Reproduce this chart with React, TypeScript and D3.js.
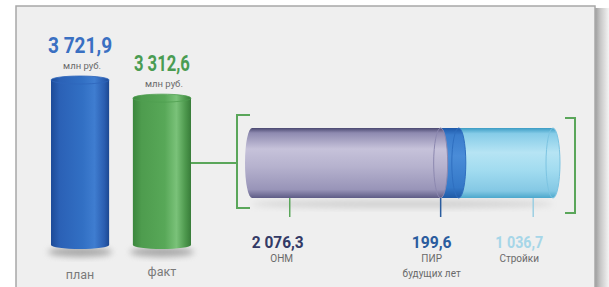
import * as d3 from 'd3';

// vertical bars: plan vs fact
const barNames = ['план', 'факт'];
const barValues = [3721.9, 3312.6];
const barValueLabels = ['3 721,9', '3 312,6'];

// breakdown of the fact value
const partNames = ['ОНМ', 'ПИР', 'Стройки'];
const partSubNames = ['', 'будущих лет', ''];
const partValues = [2076.3, 199.6, 1036.7];
const partValueLabels = ['2 076,3', '199,6', '1 036,7'];
// where the leader line leaves each segment (share of segment width)
const partLeaderAt = [0.2, 0, 0.79];

const W = 609;
const H = 287;
const NUM_FONT = 'Roboto, "Liberation Sans", sans-serif';
const TXT_FONT = 'Roboto, "Liberation Sans", sans-serif';

const barColors = ['#2e66bb', '#4f9e50'];
const barLabelColors = ['#3a70c2', '#4a9c52'];
const barLabelWidths = [64, 56];
const partLabelColors = ['#333a66', '#2a5c9e', '#a6d6e8'];
const partLabelWidths = [52, 40, 48];
const partLabelShift = [-12, -9, -14];
const partLeaderColors = ['#5aa65a', '#2a5c9e', '#9ccfe2'];

export default function App() {
  const x = d3.scaleBand<string>().domain(barNames).range([51, 191]).paddingInner(0.29);
  const y = d3.scaleLinear().domain([0, d3.max(barValues) as number]).range([245, 80]);

  const total = d3.sum(partValues);
  const capRx = 7;
  const hx = d3.scaleLinear().domain([0, total]).range([245 + capRx, 560 - capRx]);
  const cylTop = 128;
  const cylBot = 198;
  const cylMid = (cylTop + cylBot) / 2;

  const starts = partValues.map((_, i) => d3.sum(partValues.slice(0, i)));
  const segs = partValues.map((v, i) => ({
    name: partNames[i],
    x0: hx(starts[i]),
    x1: hx(starts[i] + v),
  }));

  const bw = x.bandwidth();
  const capRy = 4;

  const brLeft = hx(0) - capRx - 8;
  const brRight = hx(total) + capRx + 15;

  return (
    <svg width={W} height={H} style={{ position: 'absolute', left: 0, top: 0 }}>
      <defs>
        <linearGradient id="gBlue" x1="0" x2="1" y1="0" y2="0">
          <stop offset="0" stopColor="#1d4b98" />
          <stop offset="0.15" stopColor="#2b61b6" />
          <stop offset="0.55" stopColor="#3270c4" />
          <stop offset="0.75" stopColor="#3f7dd0" />
          <stop offset="0.92" stopColor="#2a5db0" />
          <stop offset="1" stopColor="#1c4790" />
        </linearGradient>
        <linearGradient id="gGreen" x1="0" x2="1" y1="0" y2="0">
          <stop offset="0" stopColor="#3b873d" />
          <stop offset="0.15" stopColor="#4e9c4e" />
          <stop offset="0.55" stopColor="#58a858" />
          <stop offset="0.75" stopColor="#7ac279" />
          <stop offset="0.9" stopColor="#4e994e" />
          <stop offset="1" stopColor="#387c39" />
        </linearGradient>
        <linearGradient id="gONM" x1="0" x2="0" y1="0" y2="1">
          <stop offset="0" stopColor="#4a4870" />
          <stop offset="0.07" stopColor="#8e8ab0" />
          <stop offset="0.3" stopColor="#c6c2da" />
          <stop offset="0.55" stopColor="#b6b2ce" />
          <stop offset="0.88" stopColor="#9894b8" />
          <stop offset="1" stopColor="#5e5c86" />
        </linearGradient>
        <linearGradient id="gPIR" x1="0" x2="0" y1="0" y2="1">
          <stop offset="0" stopColor="#1d58a8" />
          <stop offset="0.1" stopColor="#3a7ccc" />
          <stop offset="0.4" stopColor="#4a8cd8" />
          <stop offset="0.85" stopColor="#3478c8" />
          <stop offset="1" stopColor="#1f5aa6" />
        </linearGradient>
        <linearGradient id="gStr" x1="0" x2="0" y1="0" y2="1">
          <stop offset="0" stopColor="#3c9cc4" />
          <stop offset="0.08" stopColor="#86cce8" />
          <stop offset="0.35" stopColor="#b6e4f4" />
          <stop offset="0.6" stopColor="#a2dcf0" />
          <stop offset="0.9" stopColor="#84c8e4" />
          <stop offset="1" stopColor="#4ca8cc" />
        </linearGradient>
        <linearGradient id="gShadowR" x1="0" x2="1" y1="0" y2="0">
          <stop offset="0" stopColor="#9c9c9c" />
          <stop offset="0.4" stopColor="#c8c8c8" />
          <stop offset="1" stopColor="#f4f4f4" />
        </linearGradient>
        <filter id="blur" x="-50%" y="-50%" width="200%" height="200%">
          <feGaussianBlur stdDeviation="3" />
        </filter>
      </defs>

      {/* page + panel */}
      <rect x={0} y={0} width={W} height={H} fill="#ffffff" />
      <rect x={595} y={8} width={14} height={H} fill="url(#gShadowR)" />
      <rect x={16} y={6} width={579} height={H} fill="#efefef" stroke="#a8a8a8" strokeWidth={1.5} />

      {/* vertical bars */}
      {barNames.map((n, i) => {
        const bx = x(n) as number;
        const cx = bx + bw / 2;
        const top = y(barValues[i]);
        const bot = y(0);
        const grad = i === 0 ? 'url(#gBlue)' : 'url(#gGreen)';
        return (
          <g key={n}>
            <ellipse cx={cx} cy={bot + 7} rx={bw / 2 + 3} ry={5} fill="#7a7a7a" opacity={0.6} filter="url(#blur)" />
            <path
              d={`M${bx},${top} L${bx},${bot} A${bw / 2},${capRy} 0 0 0 ${bx + bw},${bot} L${bx + bw},${top} Z`}
              fill={grad}
            />
            <ellipse cx={cx} cy={top} rx={bw / 2} ry={capRy} fill={grad} stroke={barColors[i]} strokeWidth={0.8} />
            <text
              x={cx} y={top - 27} textAnchor="middle"
              textLength={barLabelWidths[i]} lengthAdjust="spacingAndGlyphs"
              fontFamily={NUM_FONT} fontWeight="bold" fontSize={22} fill={barLabelColors[i]}
            >
              {barValueLabels[i]}
            </text>
            <text x={cx + 2} y={top - 11} textAnchor="middle" fontFamily={TXT_FONT} fontSize={9.5} fill="#6a6a6a">
              млн руб.
            </text>
            <text x={cx} y={279 - i * 3} textAnchor="middle" fontFamily={TXT_FONT} fontSize={12.5} fill="#7a7a7a">
              {n}
            </text>
          </g>
        );
      })}

      {/* connector + brackets */}
      <g stroke="#5aa65a" strokeWidth={2} fill="none">
        <line x1={(x(barNames[1]) as number) + bw} y1={cylMid} x2={brLeft} y2={cylMid} />
        <path d={`M${brLeft + 13},${cylTop - 13} H${brLeft} V${cylBot + 10} H${brLeft + 13}`} />
        <path d={`M${brRight - 10},${cylTop - 10} H${brRight} V${cylBot + 15} H${brRight - 10}`} />
      </g>

      {/* horizontal cylinder */}
      <ellipse cx={(hx(0) + hx(total)) / 2} cy={cylBot + 6} rx={(hx(total) - hx(0)) / 2} ry={4} fill="#9a9a9a" opacity={0.35} filter="url(#blur)" />
      <ellipse cx={hx(0)} cy={cylMid} rx={capRx} ry={(cylBot - cylTop) / 2} fill="url(#gONM)" />
      {segs.map((s, i) => {
        const grad = ['url(#gONM)', 'url(#gPIR)', 'url(#gStr)'][i];
        return (
          <rect key={s.name} x={s.x0} y={cylTop} width={s.x1 - s.x0} height={cylBot - cylTop} fill={grad} />
        );
      })}
      {segs.map((s, i) => {
        const grad = ['url(#gONM)', 'url(#gPIR)', 'url(#gStr)'][i];
        const edge = ['#8c88b0', '#2f6fc0', '#7cc4e2'][i];
        return (
          <ellipse
            key={`cap-${s.name}`} cx={s.x1} cy={cylMid} rx={capRx} ry={(cylBot - cylTop) / 2}
            fill={grad} stroke={edge} strokeWidth={1}
          />
        );
      })}

      {/* leaders and labels */}
      {segs.map((s, i) => {
        const lx = s.x0 + (s.x1 - s.x0) * partLeaderAt[i];
        const tx = lx + partLabelShift[i];
        return (
          <g key={`lab-${s.name}`}>
            <line x1={lx} y1={cylBot} x2={lx} y2={217} stroke={partLeaderColors[i]} strokeWidth={1.5} />
            <text
              x={tx} y={248} textAnchor="middle"
              textLength={partLabelWidths[i]} lengthAdjust="spacingAndGlyphs"
              fontFamily={NUM_FONT} fontWeight="bold" fontSize={16.5} fill={partLabelColors[i]}
            >
              {partValueLabels[i]}
            </text>
            <text x={tx + (i === 0 ? 4 : 0)} y={262} textAnchor="middle" fontFamily={TXT_FONT} fontSize={10} fill="#6a6a6a">
              {s.name}
            </text>
            {partSubNames[i] && (
              <text x={tx} y={277} textAnchor="middle" fontFamily={TXT_FONT} fontSize={10} fill="#6a6a6a">
                {partSubNames[i]}
              </text>
            )}
          </g>
        );
      })}
    </svg>
  );
}
